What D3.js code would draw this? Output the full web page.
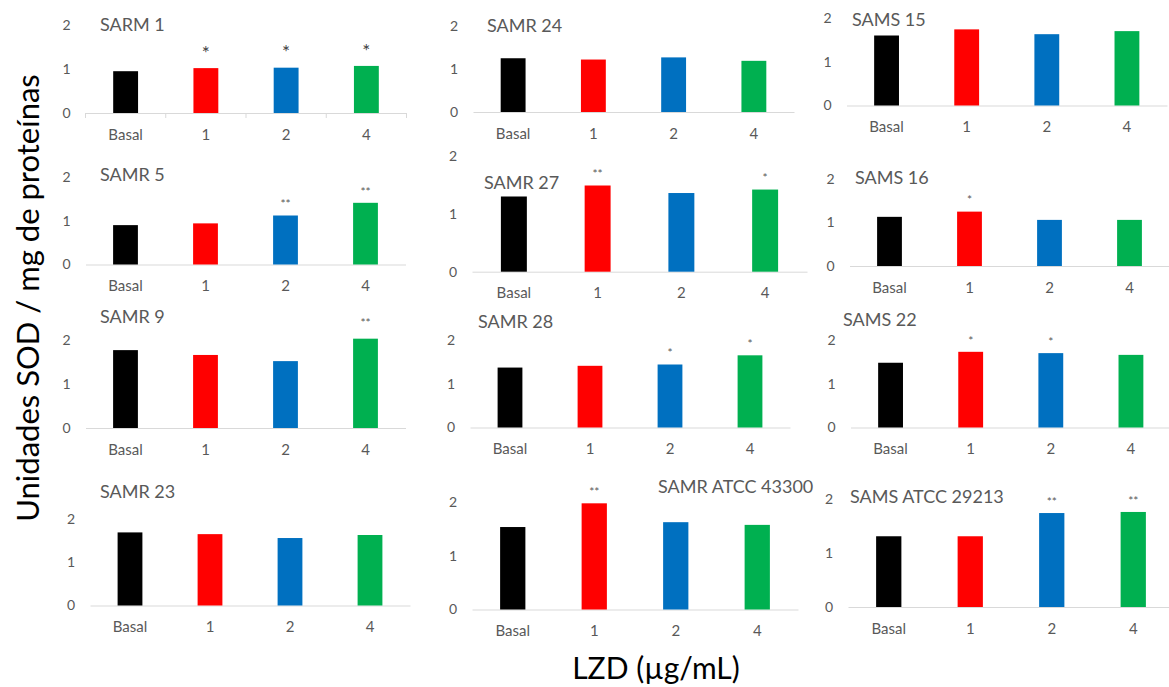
<!DOCTYPE html>
<html><head><meta charset="utf-8">
<script src="https://cdn.jsdelivr.net/npm/d3@7"></script>
<style>body{margin:0;background:#fff}svg{display:block}text{font-family:Lato,"Open Sans",sans-serif}</style>
</head><body><svg id="c" width="1169" height="687"></svg>
<script>
// ---------------- DATA ----------------
const categories = ["Basal", "1", "2", "4"];
const yTickValues = [0, 1, 2];
const panelTitles = ["SARM 1","SAMR 24","SAMS 15","SAMR 5","SAMR 27","SAMS 16","SAMR 9","SAMR 28","SAMS 22","SAMR 23","SAMR ATCC 43300","SAMS ATCC 29213"];
const sarm1   = [0.95, 1.02, 1.03, 1.07];
const samr24  = [1.25, 1.22, 1.27, 1.19];
const sams15  = [1.60, 1.74, 1.63, 1.70];
const samr5   = [0.90, 0.94, 1.12, 1.41];
const samr27  = [1.30, 1.49, 1.36, 1.42];
const sams16  = [1.13, 1.25, 1.06, 1.06];
const samr9   = [1.77, 1.66, 1.52, 2.03];
const samr28  = [1.37, 1.41, 1.44, 1.65];
const sams22  = [1.48, 1.73, 1.70, 1.66];
const samr23  = [1.69, 1.65, 1.56, 1.63];
const atcc43300 = [1.53, 1.97, 1.62, 1.57];
const atcc29213 = [1.31, 1.31, 1.74, 1.76];
const panelValues = [sarm1, samr24, sams15, samr5, samr27, sams16, samr9, samr28, sams22, samr23, atcc43300, atcc29213];
const panelStars = [
  ["", "*", "*", "*"], ["", "", "", ""], ["", "", "", ""],
  ["", "", "**", "**"], ["", "**", "", "*"], ["", "*", "", ""],
  ["", "", "", "**"], ["", "", "*", "*"], ["", "*", "*", ""],
  ["", "", "", ""], ["", "**", "", ""], ["", "", "**", "**"]
];
const barColors = ["#000000", "#FF0000", "#0070C0", "#00B050"];
const yAxisLabel = "Unidades SOD / mg de proteínas";
const xAxisLabel = "LZD (µg/mL)";

// ---------------- LAYOUT ----------------
const layout = [
  {x0:85.5, x1:406.5, base:113,   top:25,    tx:100, ty:25,  so:19, ss:19, ticks:true},
  {x0:473,  x1:794,   base:112,   top:26,    tx:487, ty:26,  so:14, ss:12},
  {x0:846.5,x1:1167,  base:105.5, top:18,    tx:852, ty:20,  so:14, ss:12},
  {x0:85.5, x1:405.5, base:264.5, top:177,   tx:100, ty:175, so:14, ss:12},
  {x0:472,  x1:807,   base:271.7, top:156,   tx:484, ty:183, so:14, ss:12},
  {x0:849.5,x1:1169.5,base:266,   top:179,   tx:855, ty:178, so:14, ss:12},
  {x0:85.5, x1:405.5, base:428,   top:340,   tx:100, ty:317, so:18, ss:12},
  {x0:470,  x1:790,   base:427.5, top:340,   tx:478, ty:322, so:14, ss:12},
  {x0:850.5,x1:1171,  base:427.5, top:340,   tx:843, ty:320, so:14, ss:12},
  {x0:90,   x1:410,   base:605.5, top:519,   tx:100, ty:492, so:14, ss:12},
  {x0:472,  x1:798,   base:609.5, top:501.7, tx:658, ty:487, so:14, ss:12},
  {x0:848,  x1:1174,  base:607,   top:499,   tx:850, ty:497, so:14, ss:12}
];

const svg = d3.select("#c");
svg.append("rect").attr("width",1169).attr("height",687).attr("fill","#fff");
const textGray = "#595959";

panelTitles.forEach((title, i) => {
  const L = layout[i];
  const vals = panelValues[i];
  const x = d3.scaleBand().domain(categories).range([L.x0, L.x1]).paddingInner(0.69).paddingOuter(0.345);
  const y = d3.scaleLinear().domain([0, 2]).range([L.base, L.top]);
  const g = svg.append("g");

  // y axis labels
  const ya = g.append("g").attr("transform", `translate(${L.x0},0)`)
    .call(d3.axisLeft(y).tickValues(yTickValues).tickFormat(d3.format("d")).tickSize(0).tickPadding(15));
  ya.select(".domain").remove();
  ya.selectAll("text").attr("fill", textGray).style("font-size", "14px").style("font-family", "Lato");

  // x axis
  const xa = g.append("g").attr("transform", `translate(0,${L.base})`)
    .call(d3.axisBottom(x).tickSize(0).tickPadding(16));
  xa.select(".domain").attr("stroke", "#D9D9D9").attr("stroke-width", 1);
  xa.selectAll("text").attr("fill", textGray).style("font-size", "15px").style("font-family", "Lato");
  if (L.ticks) {
    const step = x.step();
    const bounds = d3.range(categories.length + 1).map(k => L.x0 + k * step);
    g.selectAll(".tk").data(bounds).enter().append("line")
      .attr("x1", d => d).attr("x2", d => d).attr("y1", L.base).attr("y2", L.base + 5)
      .attr("stroke", "#D9D9D9");
  }

  // bars
  g.selectAll(".bar").data(vals).enter().append("rect")
    .attr("x", (d, k) => x(categories[k]))
    .attr("width", x.bandwidth())
    .attr("y", d => y(d))
    .attr("height", d => L.base - y(d))
    .attr("fill", (d, k) => barColors[k]);

  // significance stars
  g.selectAll(".star").data(vals).enter().append("text")
    .attr("x", (d, k) => x(categories[k]) + x.bandwidth() / 2)
    .attr("y", d => y(d) - L.so + 0.56 * L.ss)
    .attr("text-anchor", "middle")
    .attr("fill", i === 0 ? "#404040" : textGray)
    .style("font-size", L.ss + "px")
    .text((d, k) => panelStars[i][k]);

  // title
  g.append("text").attr("x", L.tx).attr("y", L.ty).attr("dy", "0.35em")
    .attr("fill", textGray).style("font-size", "18px").text(title);
});

// overall axis titles
svg.append("text").attr("transform", "translate(28,298) rotate(-90)")
  .attr("text-anchor", "middle").attr("dy", "0.35em")
  .style("font-size", "31px").attr("fill", "#000").text(yAxisLabel);
svg.append("text").attr("x", 656).attr("y", 668).attr("dy", "0.35em")
  .attr("text-anchor", "middle").style("font-size", "30px").attr("fill", "#000").text(xAxisLabel);
</script></body></html>
